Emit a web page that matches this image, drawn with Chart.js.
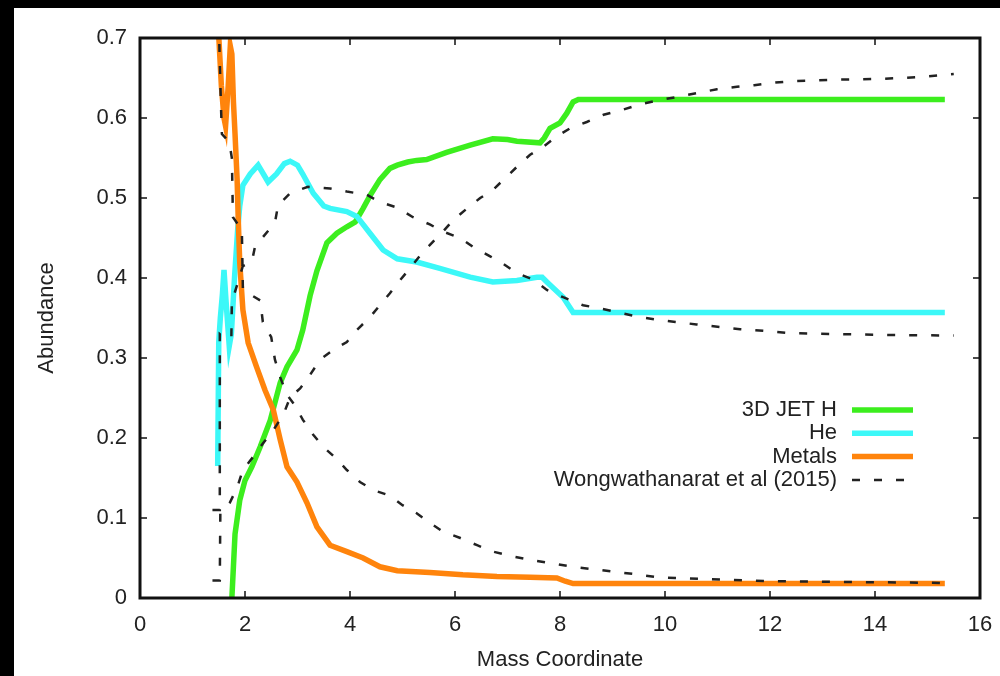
<!DOCTYPE html>
<html>
<head>
<meta charset="utf-8">
<title>Abundance vs Mass Coordinate</title>
<script src="https://cdn.jsdelivr.net/npm/chart.js@4.4.1/dist/chart.umd.min.js"></script>
<style>
    body { margin: 0; background: #000; }
    #panel {
        position: absolute;
        left: 14px;
        top: 8px;
        width: 986px;
        height: 668px;
        background: #fff;
    }
</style>
</head>
<body>
<div id="panel"><canvas id="abundanceChart" width="986" height="668"></canvas></div>
<script>
// Simulation profiles (3D JET)
const jetHMass = [1.75, 1.78, 1.81, 1.9, 2.0, 2.13, 2.29, 2.48, 2.67, 2.8, 2.99, 3.1, 3.24, 3.37, 3.56, 3.75, 3.94, 4.1, 4.25, 4.4, 4.57, 4.76, 4.9, 5.1, 5.27, 5.46, 5.84, 6.29, 6.72, 7.0, 7.18, 7.62, 7.7, 7.81, 8.0, 8.13, 8.25, 8.35, 15.33];
const jetH = [0, 0.04, 0.08, 0.122, 0.147, 0.164, 0.189, 0.222, 0.269, 0.289, 0.31, 0.335, 0.378, 0.409, 0.444, 0.456, 0.464, 0.47, 0.487, 0.505, 0.523, 0.537, 0.541, 0.545, 0.547, 0.548, 0.557, 0.566, 0.574, 0.573, 0.571, 0.569, 0.575, 0.587, 0.594, 0.606, 0.62, 0.623, 0.623];

const heMass = [1.48, 1.5, 1.53, 1.57, 1.6, 1.64, 1.7, 1.74, 1.8, 1.86, 1.9, 1.96, 2.1, 2.25, 2.35, 2.44, 2.6, 2.75, 2.86, 3.0, 3.1, 3.3, 3.5, 3.62, 3.94, 4.13, 4.38, 4.63, 4.9, 5.27, 5.71, 6.29, 6.72, 7.18, 7.56, 7.66, 7.75, 8.06, 8.25, 15.33];
const he = [0.165, 0.32, 0.35, 0.38, 0.41, 0.37, 0.315, 0.33, 0.4, 0.46, 0.49, 0.516, 0.53, 0.541, 0.53, 0.52, 0.53, 0.543, 0.546, 0.541, 0.53, 0.506, 0.49, 0.487, 0.483, 0.477, 0.456, 0.435, 0.424, 0.42, 0.412, 0.401, 0.395, 0.397, 0.401, 0.401, 0.395, 0.376, 0.357, 0.357];

const metalsMass = [1.47, 1.55, 1.6, 1.63, 1.68, 1.72, 1.75, 1.78, 1.81, 1.85, 1.87, 1.9, 1.96, 2.06, 2.22, 2.38, 2.54, 2.67, 2.8, 2.99, 3.18, 3.37, 3.62, 3.94, 4.25, 4.57, 4.9, 5.52, 6.15, 6.8, 7.43, 7.94, 8.1, 8.25, 15.33];
const metals = [0.74, 0.64, 0.6, 0.59, 0.64, 0.69, 0.68, 0.62, 0.58, 0.523, 0.476, 0.419, 0.36, 0.319, 0.289, 0.26, 0.235, 0.198, 0.164, 0.145, 0.119, 0.089, 0.066, 0.058, 0.05, 0.039, 0.034, 0.032, 0.029, 0.027, 0.026, 0.025, 0.021, 0.018, 0.018];

// Wongwathanarat et al (2015) comparison profiles
const refHMass = [1.38, 1.52, 1.53, 1.71, 1.85, 1.96, 2.15, 2.34, 2.54, 2.73, 2.86, 3.05, 3.24, 3.43, 3.68, 3.94, 4.13, 4.38, 4.57, 4.76, 4.95, 5.14, 5.37, 5.56, 5.77, 5.96, 6.23, 6.48, 6.72, 6.99, 7.18, 7.43, 7.68, 7.94, 8.19, 8.51, 8.83, 9.18, 9.52, 9.87, 10.2, 10.6, 10.99, 11.37, 11.7, 12.06, 12.4, 12.9, 13.33, 14.15, 14.5, 15.0, 15.5];
const refH = [0.022, 0.022, 0.106, 0.119, 0.138, 0.16, 0.176, 0.193, 0.21, 0.229, 0.251, 0.262, 0.279, 0.298, 0.31, 0.32, 0.335, 0.351, 0.366, 0.381, 0.397, 0.412, 0.431, 0.444, 0.458, 0.472, 0.487, 0.5, 0.51, 0.527, 0.539, 0.554, 0.564, 0.577, 0.587, 0.595, 0.604, 0.61, 0.617, 0.622, 0.626, 0.631, 0.636, 0.639, 0.641, 0.644, 0.646, 0.647, 0.648, 0.649, 0.65, 0.652, 0.655];

const refHeMass = [1.38, 1.52, 1.52, 1.62, 1.74, 1.75, 1.96, 2.13, 2.19, 2.34, 2.57, 2.63, 2.86, 3.2, 3.62, 3.94, 4.32, 4.57, 4.9, 5.2, 5.52, 5.77, 6.1, 6.34, 6.67, 6.91, 7.18, 7.49, 7.75, 8.06, 8.44, 8.76, 9.1, 9.46, 9.84, 10.2, 10.6, 11.0, 11.43, 11.87, 12.4, 13.2, 14.0, 15.5];
const refHe = [0.11, 0.11, 0.33, 0.325, 0.325, 0.37, 0.415, 0.42, 0.439, 0.451, 0.469, 0.491, 0.506, 0.514, 0.512, 0.508, 0.504, 0.495, 0.488, 0.476, 0.467, 0.458, 0.45, 0.439, 0.427, 0.418, 0.406, 0.398, 0.385, 0.376, 0.366, 0.362, 0.357, 0.352, 0.348, 0.345, 0.342, 0.339, 0.336, 0.334, 0.331, 0.33, 0.329, 0.328];

const refMetalsMass = [1.5, 1.54, 1.56, 1.7, 1.75, 1.77, 1.94, 1.96, 2.29, 2.34, 2.5, 2.57, 2.67, 2.8, 2.95, 3.1, 3.3, 3.49, 3.71, 3.94, 4.19, 4.44, 4.76, 5.0, 5.27, 5.52, 5.77, 6.1, 6.42, 6.72, 7.1, 7.49, 7.87, 8.25, 8.63, 9.0, 9.4, 9.84, 10.2, 12.06, 15.1, 15.5];
const refMetals = [0.72, 0.62, 0.58, 0.57, 0.55, 0.476, 0.46, 0.385, 0.372, 0.345, 0.326, 0.298, 0.276, 0.254, 0.241, 0.223, 0.204, 0.189, 0.176, 0.16, 0.145, 0.135, 0.128, 0.116, 0.106, 0.094, 0.083, 0.075, 0.066, 0.058, 0.052, 0.047, 0.043, 0.039, 0.036, 0.033, 0.03, 0.026, 0.025, 0.021, 0.019, 0.018];

// Axis ranges
const massTicks = [0, 2, 4, 6, 8, 10, 12, 14, 16];
const abundanceTicks = [0, 0.1, 0.2, 0.3, 0.4, 0.5, 0.6, 0.7];

const FONT = { family: '"Liberation Sans", Arial, Helvetica, sans-serif', size: 22 };
const TEXT_COLOR = '#222';
const REF_DASH = [8, 14];

function toPoints(xs, ys) {
    return xs.map((x, i) => ({ x: x, y: ys[i] }));
}

function solidLine(label, xs, ys, color, order) {
    return {
        label: label,
        data: toPoints(xs, ys),
        borderColor: color,
        borderWidth: 5.5,
        pointRadius: 0,
        tension: 0,
        clip: 0,
        order: order
    };
}

function dashedLine(label, xs, ys) {
    return {
        label: label,
        data: toPoints(xs, ys),
        borderColor: '#222',
        borderWidth: 2.5,
        borderDash: REF_DASH,
        pointRadius: 0,
        tension: 0,
        clip: 0,
        order: 0
    };
}

// Legend rows: label, colour, dashed?
const legendRows = [
    ['3D JET H', '#3cee1e', false],
    ['He', '#3cf8f8', false],
    ['Metals', '#ff840c', false],
    ['Wongwathanarat et al (2015)', '#222', true]
];

// Border with inward ticks on all four sides
const frameTicks = {
    id: 'frameTicks',
    afterDatasetsDraw(chart) {
        const { ctx, chartArea: a, scales } = chart;
        ctx.save();
        ctx.strokeStyle = '#111';
        ctx.lineWidth = 1.5;
        ctx.beginPath();
        massTicks.forEach(v => {
            const px = scales.x.getPixelForValue(v);
            ctx.moveTo(px, a.bottom); ctx.lineTo(px, a.bottom - 7);
            ctx.moveTo(px, a.top); ctx.lineTo(px, a.top + 7);
        });
        abundanceTicks.forEach(v => {
            const py = scales.y.getPixelForValue(v);
            ctx.moveTo(a.left, py); ctx.lineTo(a.left + 7, py);
            ctx.moveTo(a.right, py); ctx.lineTo(a.right - 7, py);
        });
        ctx.stroke();
        ctx.lineWidth = 3;
        ctx.strokeRect(a.left, a.top, a.right - a.left, a.bottom - a.top);
        ctx.restore();
    }
};

// Key inside the plot, text right aligned with the line sample after it
const insideLegend = {
    id: 'insideLegend',
    afterDraw(chart) {
        const { ctx, chartArea: a } = chart;
        const textRight = a.right - 143;
        const x1 = a.right - 128;
        const x2 = a.right - 67;
        ctx.save();
        ctx.font = FONT.size + 'px ' + FONT.family;
        ctx.textAlign = 'right';
        ctx.textBaseline = 'middle';
        legendRows.forEach((row, i) => {
            const y = a.top + 372 + i * 23.3;
            ctx.fillStyle = TEXT_COLOR;
            ctx.fillText(row[0], textRight, y);
            ctx.beginPath();
            ctx.strokeStyle = row[1];
            if (row[2]) {
                ctx.lineWidth = 2.5;
                ctx.setLineDash(REF_DASH);
            } else {
                ctx.lineWidth = 5.5;
                ctx.setLineDash([]);
            }
            ctx.moveTo(x1, y);
            ctx.lineTo(x2, y);
            ctx.stroke();
        });
        ctx.restore();
    }
};

// Initialize chart
function initChart() {
    const ctx = document.getElementById('abundanceChart').getContext('2d');
    new Chart(ctx, {
        type: 'line',
        data: {
            datasets: [
                dashedLine('Wongwathanarat H', refHMass, refH),
                dashedLine('Wongwathanarat He', refHeMass, refHe),
                dashedLine('Wongwathanarat Metals', refMetalsMass, refMetals),
                solidLine('Metals', metalsMass, metals, '#ff840c', 1),
                solidLine('He', heMass, he, '#3cf8f8', 2),
                solidLine('3D JET H', jetHMass, jetH, '#3cee1e', 3)
            ]
        },
        options: {
            responsive: false,
            animation: false,
            layout: { padding: { left: 0, right: 20, top: 30, bottom: 0 } },
            scales: {
                x: {
                    type: 'linear',
                    min: 0,
                    max: 16,
                    afterBuildTicks: scale => {
                        scale.ticks = massTicks.map(v => ({ value: v }));
                    },
                    afterFit: scale => {
                        scale.height = 78;
                        // end labels fit inside the layout padding
                        scale.paddingLeft = 0;
                        scale.paddingRight = 0;
                    },
                    grid: { display: false, drawTicks: false },
                    border: { display: false },
                    ticks: { font: FONT, color: TEXT_COLOR, padding: 14, maxRotation: 0 },
                    title: {
                        display: true,
                        text: 'Mass Coordinate',
                        font: FONT,
                        color: TEXT_COLOR,
                        padding: { top: 0, bottom: 3 }
                    }
                },
                y: {
                    type: 'linear',
                    min: 0,
                    max: 0.7,
                    afterBuildTicks: scale => {
                        scale.ticks = abundanceTicks.map(v => ({ value: v }));
                    },
                    afterFit: scale => { scale.width = 126; },
                    grid: { display: false, drawTicks: false },
                    border: { display: false },
                    ticks: {
                        font: FONT,
                        color: TEXT_COLOR,
                        padding: 13,
                        callback: v => String(Math.round(v * 10) / 10)
                    },
                    title: {
                        display: true,
                        text: 'Abundance',
                        font: FONT,
                        color: TEXT_COLOR,
                        padding: { top: 20, bottom: 0 }
                    }
                }
            },
            plugins: {
                legend: { display: false },
                tooltip: { enabled: false }
            }
        },
        plugins: [frameTicks, insideLegend]
    });
}

document.addEventListener('DOMContentLoaded', initChart);
</script>
</body>
</html>
